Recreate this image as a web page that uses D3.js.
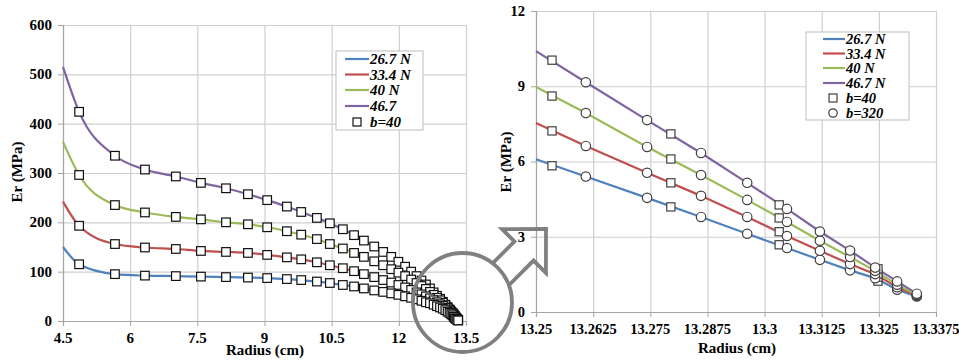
<!DOCTYPE html>
<html><head><meta charset="utf-8">
<script src="https://cdn.jsdelivr.net/npm/d3@7/dist/d3.min.js"></script>
</head>
<body style="margin:0">
<svg id="c" width="959" height="360"></svg>
<script>
// ---------------- DATA ----------------
const seriesNames = ["26.7 N", "33.4 N", "40 N", "46.7 N"];
const leftLegendNames = ["26.7 N", "33.4 N", "40 N", "46.7"];
const seriesColors = ["#4f81bd", "#c0504d", "#9bbb59", "#8064a2"];

// Left chart (full radius range), b=40 squares
const leftStartX = 4.5;
const leftStartValues = [150, 242, 363, 515];
const leftX = [4.86, 5.66, 6.33, 7.02, 7.58, 8.14, 8.63, 9.06, 9.50, 9.82, 10.17, 10.46, 10.75, 11.00, 11.22, 11.45,
  11.65, 11.83, 11.99, 12.14, 12.275, 12.395, 12.505, 12.605, 12.695, 12.777, 12.852, 12.92, 12.982, 13.038,
  13.088, 13.133, 13.17, 13.20, 13.228, 13.2535, 13.2795, 13.3032, 13.3248];
const leftBlue = [115, 95, 92, 91, 90, 89, 88, 87, 85, 83, 80, 77, 73, 70, 66, 62,
  59, 56, 53, 50, 47, 44, 41, 38, 36, 33, 30, 27.5, 25, 22, 19, 16.5, 14, 11.5, 8.5, 5.8, 4.2, 2.7, 1.23];
const leftRed = [193, 156, 149, 146, 142, 140, 138, 134, 129, 125, 119, 113, 107, 101, 95, 89,
  83, 78, 73, 68, 63, 58, 54, 50, 46, 42, 38, 34, 31, 27, 23.5, 20, 16.5, 13, 10, 7.2, 5.1, 3.2, 1.39];
const leftGreen = [296, 235, 220, 211, 206, 200, 196, 190, 182, 175, 166, 156, 147, 138, 130, 121,
  113, 105, 98, 91, 84, 77, 71, 65, 59, 53, 47, 42, 37, 32, 27, 23, 19, 15.5, 12, 8.6, 6.1, 3.75, 1.56];
const leftPurple = [424, 335, 307, 293, 280, 269, 257, 245, 232, 221, 209, 198, 186, 174, 163, 151,
  140, 130, 120, 110, 100, 91, 82, 74, 66, 58, 51, 45, 39, 33, 28, 23, 19, 16, 13, 10.0, 7.1, 4.4, 1.8];

const leftXTicks = [4.5, 6, 7.5, 9, 10.5, 12, 13.5];
const leftXTickLabels = ["4.5", "6", "7.5", "9", "10.5", "12", "13.5"];
const leftYTicks = [0, 100, 200, 300, 400, 500, 600];
const leftYTickLabels = ["0", "100", "200", "300", "400", "500", "600"];

// Right chart (zoom near outer radius)
const rightStartX = 13.25;
const rightStartValues = [6.09, 7.53, 8.97, 10.40];
const rightSqX = [13.2535, 13.2795, 13.3032, 13.3248];
const rightSqBlue = [5.83, 4.19, 2.68, 1.23];
const rightSqRed = [7.22, 5.15, 3.20, 1.39];
const rightSqGreen = [8.61, 6.10, 3.75, 1.52];
const rightSqPurple = [10.04, 7.10, 4.27, 1.72];
const rightCircX = [13.2609, 13.2743, 13.2861, 13.2962, 13.3049, 13.3121, 13.3187, 13.3242, 13.3290, 13.3333];
const rightCircBlue = [5.40, 4.55, 3.79, 3.12, 2.55, 2.08, 1.66, 1.35, 0.89, 0.62];
const rightCircRed = [6.62, 5.55, 4.63, 3.79, 3.03, 2.44, 1.91, 1.51, 0.99, 0.65];
const rightCircGreen = [7.93, 6.58, 5.46, 4.47, 3.59, 2.84, 2.19, 1.64, 1.09, 0.68];
const rightCircPurple = [9.16, 7.65, 6.34, 5.15, 4.11, 3.21, 2.45, 1.77, 1.22, 0.73];

const rightXTicks = [13.25, 13.2625, 13.275, 13.2875, 13.3, 13.3125, 13.325, 13.3375];
const rightXTickLabels = ["13.25", "13.2625", "13.275", "13.2875", "13.3", "13.3125", "13.325", "13.3375"];
const rightYTicks = [0, 3, 6, 9, 12];
const rightYTickLabels = ["0", "3", "6", "9", "12"];

// ---------------- DRAW ----------------
const svg = d3.select("#c");
const GRID = "#cfcfcf", AXIS = "#a6a6a6";
const labels = [];

function addText(x, y, str, size, opts = {}) {
  labels.push({ x, y, str, size, anchor: opts.anchor || "start", italic: !!opts.italic, rotate: !!opts.rotate });
}

function panel(o) {
  const g = svg.append("g");
  const x = d3.scaleLinear().domain(o.xDom).range(o.xRange);
  const y = d3.scaleLinear().domain(o.yDom).range(o.yRange);
  const [x0, x1] = o.xRange, [y0, y1] = o.yRange;
  g.append("g").attr("transform", `translate(0,${y0})`)
    .call(d3.axisBottom(x).tickValues(o.xTicks).tickSize(-(y0 - y1)).tickFormat(""))
    .call(s => { s.select(".domain").remove(); s.selectAll("line").attr("stroke", GRID).attr("stroke-width", 1.2); s.selectAll("text").remove(); });
  g.append("g").attr("transform", `translate(${x0},0)`)
    .call(d3.axisLeft(y).tickValues(o.yTicks).tickSize(-(x1 - x0)).tickFormat(""))
    .call(s => { s.select(".domain").remove(); s.selectAll("line").attr("stroke", GRID).attr("stroke-width", 1.2); s.selectAll("text").remove(); });
  const ax = g.append("g").attr("transform", `translate(0,${y0})`)
    .call(d3.axisBottom(x).tickValues(o.xTicks).tickSize(5).tickFormat(""));
  const ay = g.append("g").attr("transform", `translate(${x0},0)`)
    .call(d3.axisLeft(y).tickValues(o.yTicks).tickSize(5).tickFormat(""));
  [ax, ay].forEach(a => {
    a.selectAll("text").remove();
    a.select(".domain").attr("stroke", AXIS).attr("stroke-width", 1.2);
    a.selectAll(".tick line").attr("stroke", AXIS);
  });
  o.xTicks.forEach((t, i) => addText(x(t), y0 + o.xLabelOff, o.xLabels[i], o.tickFont, { anchor: "middle" }));
  o.yTicks.forEach((t, i) => addText(x0 - 11, y(t) + o.tickFont * 0.34, o.yLabels[i], o.tickFont, { anchor: "end" }));
  addText(o.xTitlePos[0], o.xTitlePos[1], "Radius (cm)", o.titleFont, { anchor: "middle" });
  addText(o.yTitlePos[0], o.yTitlePos[1], "Er (MPa)", o.titleFont, { anchor: "middle", rotate: true });
  return { g, x, y };
}

// ----- Left panel -----
const L = panel({
  xDom: [4.5, 13.5], xRange: [63, 466], yDom: [0, 600], yRange: [321, 25],
  xTicks: leftXTicks, xLabels: leftXTickLabels, yTicks: leftYTicks, yLabels: leftYTickLabels,
  xLabelOff: 21.5, tickFont: 15, titleFont: 15, xTitlePos: [265, 355], yTitlePos: [22, 172]
});
const leftSeries = [leftBlue, leftRed, leftGreen, leftPurple];
const lineL = d3.line().x(d => L.x(d[0])).y(d => L.y(d[1])).curve(d3.curveMonotoneX);
leftSeries.forEach((vals, i) => {
  const pts = [[leftStartX, leftStartValues[i]]].concat(leftX.map((xv, j) => [xv, vals[j]]));
  L.g.append("path").attr("d", lineL(pts)).attr("fill", "none")
    .attr("stroke", seriesColors[i]).attr("stroke-width", 2.2);
});
const sqL = 8.6;
[3, 2, 1, 0].forEach(i => {
  const vals = leftSeries[i];
  L.g.append("g").selectAll("rect").data(leftX.map((xv, j) => [xv, vals[j]])).join("rect")
    .attr("x", d => L.x(d[0]) - sqL / 2).attr("y", d => L.y(d[1]) - sqL / 2)
    .attr("width", sqL).attr("height", sqL)
    .attr("fill", "#fff").attr("stroke", "#111").attr("stroke-width", 1.2);
});
(function () {
  const g = L.g.append("g");
  g.append("rect").attr("x", 336).attr("y", 51).attr("width", 87).attr("height", 79)
    .attr("fill", "#fff").attr("stroke", "#bdbdbd").attr("stroke-width", 1);
  const rows = [59, 74.5, 90, 106, 122];
  leftLegendNames.forEach((n, i) => {
    g.append("line").attr("x1", 345).attr("x2", 369).attr("y1", rows[i]).attr("y2", rows[i])
      .attr("stroke", seriesColors[i]).attr("stroke-width", 2.2);
    addText(370, rows[i] + 5, n, 15, { italic: true });
  });
  g.append("rect").attr("x", 353).attr("y", rows[4] - 4).attr("width", 8).attr("height", 8)
    .attr("fill", "#fff").attr("stroke", "#111").attr("stroke-width", 1.2);
  addText(370, rows[4] + 5, "b=40", 15, { italic: true });
})();

// ----- Right panel -----
const R = panel({
  xDom: [13.25, 13.3375], xRange: [536, 936], yDom: [0, 12], yRange: [312, 11],
  xTicks: rightXTicks, xLabels: rightXTickLabels, yTicks: rightYTicks, yLabels: rightYTickLabels,
  xLabelOff: 22, tickFont: 14.5, titleFont: 15, xTitlePos: [737, 353], yTitlePos: [511, 162]
});
const rightSq = [rightSqBlue, rightSqRed, rightSqGreen, rightSqPurple];
const rightCirc = [rightCircBlue, rightCircRed, rightCircGreen, rightCircPurple];
const lineR = d3.line().x(d => R.x(d[0])).y(d => R.y(d[1]));
rightCirc.forEach((vals, i) => {
  const pts = [[rightStartX, rightStartValues[i]]].concat(rightCircX.map((xv, j) => [xv, vals[j]]));
  R.g.append("path").attr("d", lineR(pts)).attr("fill", "none")
    .attr("stroke", seriesColors[i]).attr("stroke-width", 2.2);
});
const sqR = 8.2;
rightSq.forEach(vals => {
  R.g.append("g").selectAll("rect").data(rightSqX.map((xv, j) => [xv, vals[j]])).join("rect")
    .attr("x", d => R.x(d[0]) - sqR / 2).attr("y", d => R.y(d[1]) - sqR / 2)
    .attr("width", sqR).attr("height", sqR)
    .attr("fill", "#fff").attr("stroke", "#404040").attr("stroke-width", 1.2);
});
rightCirc.forEach(vals => {
  R.g.append("g").selectAll("circle").data(rightCircX.map((xv, j) => [xv, vals[j]])).join("circle")
    .attr("cx", d => R.x(d[0])).attr("cy", d => R.y(d[1])).attr("r", 4.7)
    .attr("fill", "#fff").attr("stroke", "#404040").attr("stroke-width", 1.2);
});
(function () {
  const g = R.g.append("g");
  g.append("rect").attr("x", 806).attr("y", 32).attr("width", 103).attr("height", 88)
    .attr("fill", "#fff").attr("stroke", "#bdbdbd").attr("stroke-width", 1);
  const rows = [39, 53.5, 68, 83, 98, 113];
  seriesNames.forEach((n, i) => {
    g.append("line").attr("x1", 823).attr("x2", 845).attr("y1", rows[i]).attr("y2", rows[i])
      .attr("stroke", seriesColors[i]).attr("stroke-width", 2.2);
    addText(846, rows[i] + 5, n, 14.5, { italic: true });
  });
  g.append("rect").attr("x", 829).attr("y", rows[4] - 4).attr("width", 8).attr("height", 8)
    .attr("fill", "#fff").attr("stroke", "#404040").attr("stroke-width", 1.2);
  addText(846, rows[4] + 5, "b=40", 14.5, { italic: true });
  g.append("circle").attr("cx", 833).attr("cy", rows[5]).attr("r", 4.2)
    .attr("fill", "#fff").attr("stroke", "#404040").attr("stroke-width", 1.2);
  addText(846, rows[5] + 5, "b=320", 14.5, { italic: true });
})();

// ----- all texts -----
labels.forEach(t => {
  const el = svg.append("text")
    .attr("x", t.rotate ? 0 : t.x).attr("y", t.rotate ? 0 : t.y)
    .attr("text-anchor", t.anchor)
    .attr("font-family", "Liberation Serif")
    .style("font-family", '"Liberation Serif"')
    .style("font-weight", "bold")
    .style("font-size", t.size + "px")
    .attr("fill", "#000")
    .text(t.str);
  if (t.italic) el.style("font-style", "italic");
  if (t.rotate) el.attr("transform", `translate(${t.x},${t.y}) rotate(-90)`);
});

// ----- Annotation: magnifier circle and arrow -----
(function () {
  const C = [462.5, 302.5], r = 49.5;
  const ANN = "#808080";
  svg.append("circle").attr("cx", C[0]).attr("cy", C[1]).attr("r", r)
    .attr("fill", "none").attr("stroke", ANN).attr("stroke-width", 3.8);
  const s2 = Math.SQRT1_2;
  const d = [s2, -s2], n = [s2, s2];
  const M = [524, 251], T = [546, 229];
  const hw = 13.5, hh = 31;
  const P = (k, s) => [M[0] + k * n[0] - s * d[0], M[1] + k * n[1] - s * d[1]];
  function back(k) {
    const q0 = [M[0] + k * n[0] - C[0], M[1] + k * n[1] - C[1]];
    const qd = q0[0] * d[0] + q0[1] * d[1];
    const qq = q0[0] * q0[0] + q0[1] * q0[1];
    const s = qd - Math.sqrt(Math.max(0, qd * qd - qq + r * r));
    return P(k, s);
  }
  const pts = [back(hw), P(hw, 0), P(hh, 0), T, P(-hh, 0), P(-hw, 0), back(-hw)];
  svg.append("path").attr("d", d3.line()(pts)).attr("fill", "none")
    .attr("stroke", ANN).attr("stroke-width", 3.8).attr("stroke-linejoin", "miter");
})();
</script>
</body></html>
